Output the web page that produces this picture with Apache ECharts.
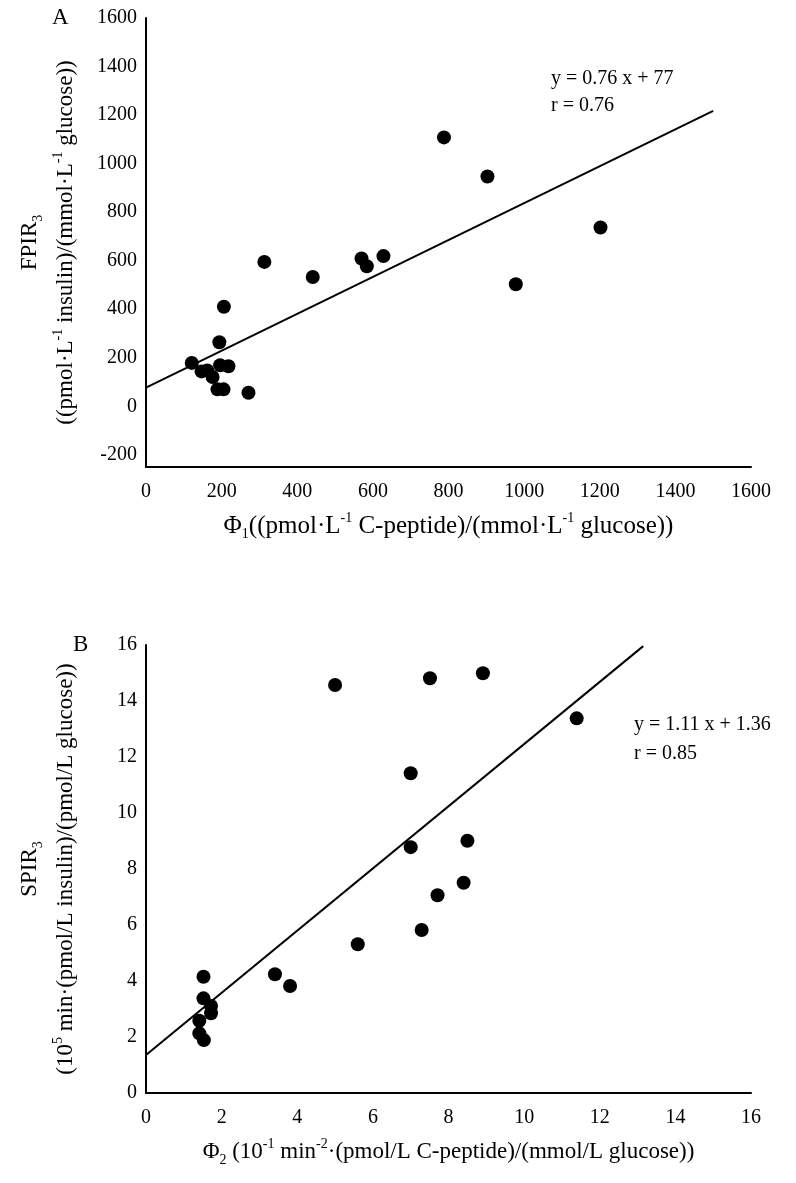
<!DOCTYPE html>
<html>
<head>
<meta charset="utf-8">
<script src="https://cdn.jsdelivr.net/npm/echarts@6/dist/echarts.min.js"></script>
<style>
html,body{margin:0;padding:0;background:#fff;}
#chart{width:796px;height:1183px;}
</style>
</head>
<body>
<div id="chart"></div>
<script>
// ---- Panel A data ----
const phi1 = [121,147,162,176,189,205,196,218,194,206,271,313,441,570,584,628,788,903,978,1202];
const fpir3 = [179,144,148,121,70,70,169,165,264,410,56,595,533,609,577,619,1108,947,503,737];
const fitA = [[0,77],[1500,1217]];
const xTicksA = [0,200,400,600,800,1000,1200,1400,1600];
const yTicksA = [-200,0,200,400,600,800,1000,1200,1400,1600];
const eqA = ['y = 0.76 x + 77','r = 0.76'];

// ---- Panel B data ----
const phi2 = [1.52,1.52,1.72,1.72,1.41,1.41,1.53,3.41,3.81,5.6,7.29,7.71,8.4,7.51,8.91,11.39,7.0,7.0,8.5,5.0];
const spir3 = [4.15,3.38,3.11,2.85,2.58,2.13,1.89,4.24,3.82,5.31,5.82,7.06,7.51,14.81,14.99,13.38,11.42,8.78,9.01,14.57];
const fitB = [[0,1.36],[13.15,15.96]];
const xTicksB = [0,2,4,6,8,10,12,14,16];
const yTicksB = [0,2,4,6,8,10,12,14,16];
const eqB = ['y = 1.11 x + 1.36','r = 0.85'];

const FF = '"Liberation Serif","Times New Roman",serif';
const FS = 20;   // tick labels
const NS = 23;   // axis titles
function makeRich(size){
  return {
    t:{fontSize:size,fontFamily:FF,color:'#000',align:'center'},
    sub:{fontSize:14,fontFamily:FF,color:'#000',verticalAlign:'middle',align:'center',padding:[16,0,0,0]},
    sup:{fontSize:14,fontFamily:FF,color:'#000',verticalAlign:'middle',align:'center',padding:[0,0,16,0]},
    gap:{fontSize:size,fontFamily:FF,color:'#000',align:'center',lineHeight:6}
  };
}
const rich = makeRich(NS);
const richA = makeRich(25);
const lineStyle = {color:'#000',width:2};
const fmt = v => String(v);

function xAxisCfg(grid, ticks, name, gap, r){
  return {
    type:'value', gridIndex:grid, min:ticks[0], max:ticks[ticks.length-1], interval:ticks[1]-ticks[0],
    splitLine:{show:false}, axisTick:{show:false},
    axisLine:{show:true,onZero:false,lineStyle:lineStyle},
    axisLabel:{fontFamily:FF,fontSize:FS,color:'#000',margin:15,formatter:fmt},
    name:name, nameLocation:'middle', nameGap:gap,
    nameTextStyle:{rich:r}
  };
}

const option = {
  backgroundColor:'#fff',
  animation:false,
  grid:[
    {left:146,right:45,top:18,height:449,containLabel:false,outerBoundsMode:'none'},
    {left:146,right:45,top:645,height:448,containLabel:false,outerBoundsMode:'none'}
  ],
  xAxis:[
    xAxisCfg(0, xTicksA, '{t|Φ}{sub|1}{t|((pmol·L}{sup|-1}{t| C-peptide)/(mmol·L}{sup|-1}{t| glucose))}', 44, richA),
    xAxisCfg(1, xTicksB, '{t|Φ}{sub|2}{t| (10}{sup|-1}{t| min}{sup|-2}{t|·(pmol/L C-peptide)/(mmol/L glucose))}', 44, rich)
  ],
  yAxis:[
    {
      type:'value', gridIndex:0, min:-250, max:1600,
      splitLine:{show:false}, axisTick:{show:false},
      axisLine:{show:true,onZero:false,lineStyle:lineStyle},
      axisLabel:{fontFamily:FF,fontSize:FS,color:'#000',margin:9,customValues:yTicksA,formatter:fmt},
      name:'{t|FPIR}{sub|3}\n{gap| }\n{t|((pmol·L}{sup|-1}{t| insulin)/(mmol·L}{sup|-1}{t| glucose))}',
      nameLocation:'middle', nameRotate:90, nameGap:65,
      nameTextStyle:{rich:rich}
    },
    {
      type:'value', gridIndex:1, min:yTicksB[0], max:yTicksB[yTicksB.length-1], interval:yTicksB[1]-yTicksB[0],
      splitLine:{show:false}, axisTick:{show:false},
      axisLine:{show:true,onZero:false,lineStyle:lineStyle},
      axisLabel:{fontFamily:FF,fontSize:FS,color:'#000',margin:9,formatter:fmt},
      name:'{t|SPIR}{sub|3}\n{gap| }\n{t|(10}{sup|5}{t| min·(pmol/L insulin)/(pmol/L glucose))}',
      nameLocation:'middle', nameRotate:90, nameGap:65,
      nameTextStyle:{rich:rich}
    }
  ],
  title:[
    {text:'A', left:47, top:1, textStyle:{fontFamily:FF,fontSize:23,fontWeight:'normal',color:'#000'}},
    {text:'B', left:68, top:628, textStyle:{fontFamily:FF,fontSize:23,fontWeight:'normal',color:'#000'}}
  ],
  graphic:[
    {type:'text', left:551, top:65, style:{text:eqA.join('\n'), font:'20px '+FF, fill:'#000', lineHeight:27}},
    {type:'text', left:634, top:710, style:{text:eqB.join('\n'), font:'20px '+FF, fill:'#000', lineHeight:29}}
  ],
  series:[
    {type:'scatter', xAxisIndex:0, yAxisIndex:0, symbol:'circle', symbolSize:14,
     itemStyle:{color:'#000',opacity:1}, data:phi1.map((x,i)=>[x,fpir3[i]]), z:3},
    {type:'line', xAxisIndex:0, yAxisIndex:0, showSymbol:false, symbol:'none',
     lineStyle:lineStyle, data:fitA, z:2},
    {type:'scatter', xAxisIndex:1, yAxisIndex:1, symbol:'circle', symbolSize:14,
     itemStyle:{color:'#000',opacity:1}, data:phi2.map((x,i)=>[x,spir3[i]]), z:3},
    {type:'line', xAxisIndex:1, yAxisIndex:1, showSymbol:false, symbol:'none',
     lineStyle:lineStyle, data:fitB, z:2}
  ]
};
const chart = echarts.init(document.getElementById('chart'), null, {renderer:'canvas'});
chart.setOption(option);
</script>
</body>
</html>
